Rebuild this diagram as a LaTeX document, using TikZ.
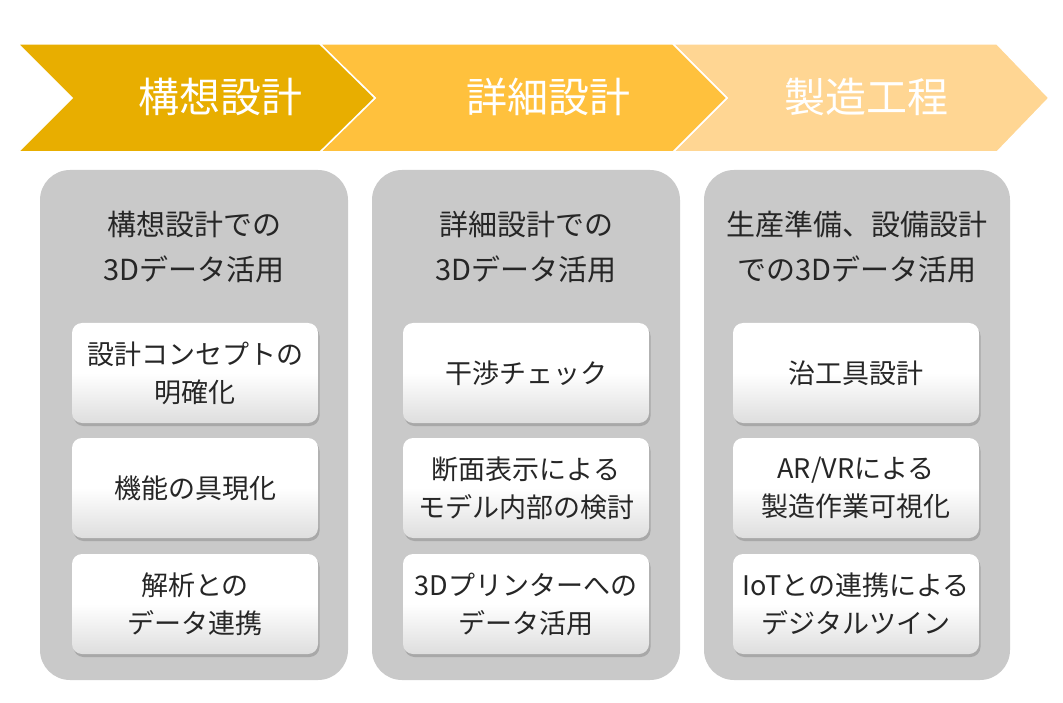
\documentclass[tikz,border=0pt]{standalone}
\usepackage{fontspec}
\setmainfont{Noto Sans CJK JP}
\usetikzlibrary{shadows}
\definecolor{gold1}{HTML}{E8AE00}
\definecolor{gold2}{HTML}{FFC13D}
\definecolor{gold3}{HTML}{FFD693}
\definecolor{panelgray}{HTML}{C9C9C9}
\tikzset{
  chev/.style={draw=white, line width=1.5pt, line join=miter},
  chevtext/.style={text=white, font=\fontsize{41}{46}\selectfont},
  panel/.style={fill=panelgray, rounded corners=30pt},
  head/.style={align=center, font=\fontsize{29}{45}\selectfont, text=black!85},
  card/.style={rounded corners=10pt, minimum width=246pt, minimum height=100pt,
    align=center, top color=white, bottom color=black!13, middle color=white,
    drop shadow={shadow xshift=1.5pt, shadow yshift=-3pt, opacity=0.45},
    font=\fontsize{27}{38}\selectfont, text=black!85, inner sep=0pt}
}
\begin{document}
\begin{tikzpicture}[x=1pt, y=-1pt]
  \useasboundingbox (0,0) rectangle (1063,703);
  % chevrons
  \filldraw[chev, fill=gold3] (673,44) -- (997,44) -- (1049,98) -- (997,152) -- (673,152) -- (727,98) -- cycle;
  \filldraw[chev, fill=gold2] (320,44) -- (673,44) -- (727,98) -- (673,152) -- (320,152) -- (375,98) -- cycle;
  \filldraw[chev, fill=gold1] (18,44) -- (320,44) -- (375,98) -- (320,152) -- (18,152) -- (72,98) -- cycle;
  \node[chevtext] (t1) at (220,97) {構想設計};
  \node[chevtext] (t2) at (548,97) {詳細設計};
  \node[chevtext] (t3) at (866,97) {製造工程};
  % panels
  \fill[panel] (40,170) rectangle (348,680);
  \fill[panel] (372,170) rectangle (680,680);
  \fill[panel] (704,170) rectangle (1010,680);
  \node[head] (h1) at (194,247) {構想設計での\\3Dデータ活用};
  \node[head] (h2) at (526,247) {詳細設計での\\3Dデータ活用};
  \node[head] (h3) at (857,247) {生産準備、設備設計\\での3Dデータ活用};
  % cards
  \node[card] (c11) at (195,373) {設計コンセプトの\\明確化};
  \node[card] (c12) at (195,488) {機能の具現化};
  \node[card] (c13) at (195,604) {解析との\\データ連携};
  \node[card] (c21) at (526,373) {干渉チェック};
  \node[card] (c22) at (526,488) {断面表示による\\モデル内部の検討};
  \node[card] (c23) at (526,604) {3Dプリンターへの\\データ活用};
  \node[card] (c31) at (856,373) {治工具設計};
  \node[card] (c32) at (856,488) {AR/VRによる\\製造作業可視化};
  \node[card] (c33) at (856,604) {IoTとの連携による\\デジタルツイン};
\end{tikzpicture}
\end{document}
